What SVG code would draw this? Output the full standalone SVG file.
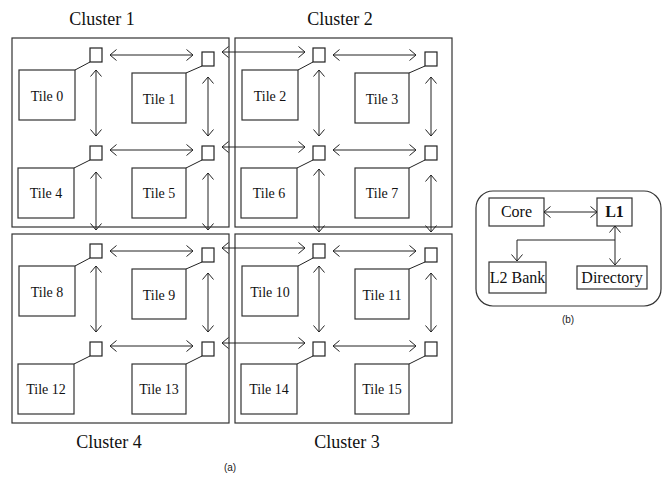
<svg xmlns="http://www.w3.org/2000/svg" width="665" height="477" viewBox="0 0 665 477">
<style>
.cl{fill:none;stroke:#333;stroke-width:1.2}
.tile{fill:#fff;stroke:#333;stroke-width:1.2}
.rt{fill:#fff;stroke:#222;stroke-width:1.2}
.lk{stroke:#222;stroke-width:1;fill:none}
.ar{stroke:#222;stroke-width:1;fill:none;marker-start:url(#ah);marker-end:url(#ah)}
.ae{stroke:#222;stroke-width:1;fill:none;marker-end:url(#ah)}
.t{font-family:"Liberation Serif","Times New Roman",serif;font-size:14px;fill:#111;text-anchor:middle}
.c{font-family:"Liberation Serif","Times New Roman",serif;font-size:18px;fill:#111;text-anchor:middle}
.b{font-family:"Liberation Serif","Times New Roman",serif;font-size:16px;fill:#111;text-anchor:middle}
.s{font-family:"Liberation Sans",Arial,sans-serif;font-size:10px;fill:#222;text-anchor:middle}
</style>
<defs>
<marker id="ah" markerUnits="userSpaceOnUse" orient="auto-start-reverse" refX="0" refY="0" markerWidth="10" markerHeight="14" viewBox="-8 -7 9 14" overflow="visible">
<path d="M-6.5,-5.5 L0,0 L-6.5,5.5" fill="none" stroke="#222" stroke-width="1"/>
</marker>
<g id="clusterTpl">
<rect class="cl" x="12" y="38" width="217" height="189"/>
<rect class="rt" x="90" y="48" width="12" height="14"/>
<rect class="rt" x="202" y="52" width="12" height="14"/>
<rect class="rt" x="90" y="146" width="12" height="14"/>
<rect class="rt" x="202" y="146" width="12" height="14"/>
<line class="lk" x1="75" y1="70" x2="90" y2="62"/>
<line class="lk" x1="186" y1="73" x2="202" y2="66"/>
<line class="lk" x1="74" y1="168" x2="90" y2="160"/>
<line class="lk" x1="186" y1="168" x2="202" y2="160"/>
<rect class="tile" x="19" y="70" width="56" height="50"/>
<rect class="tile" x="132" y="73" width="54" height="50"/>
<rect class="tile" x="18" y="168" width="56" height="50"/>
<rect class="tile" x="132" y="168" width="54" height="50"/>
<line class="ar" x1="110" y1="55" x2="193" y2="55"/>
<line class="ar" x1="110" y1="150" x2="193" y2="150"/>
<line class="ar" x1="96" y1="70" x2="96" y2="136"/>
<line class="ar" x1="208" y1="77" x2="208" y2="136"/>
</g>
</defs>

<g id="cluster1">
<use href="#clusterTpl"/>
<text class="c" x="102" y="25">Cluster 1</text>
</g>
<g id="cluster2">
<use href="#clusterTpl" transform="translate(223,0)"/>
<text class="c" x="340" y="25">Cluster 2</text>
</g>
<g id="cluster4">
<use href="#clusterTpl" transform="translate(0,196)"/>
<text class="c" x="109" y="448">Cluster 4</text>
</g>
<g id="cluster3">
<use href="#clusterTpl" transform="translate(223,196)"/>
<text class="c" x="347" y="448">Cluster 3</text>
</g>

<g id="tile-labels">
<text class="t" x="47" y="101">Tile 0</text>
<text class="t" x="159" y="104">Tile 1</text>
<text class="t" x="270" y="101">Tile 2</text>
<text class="t" x="382" y="104">Tile 3</text>
<text class="t" x="46" y="198">Tile 4</text>
<text class="t" x="159" y="198">Tile 5</text>
<text class="t" x="269" y="198">Tile 6</text>
<text class="t" x="382" y="198">Tile 7</text>
<text class="t" x="47" y="297">Tile 8</text>
<text class="t" x="159" y="300">Tile 9</text>
<text class="t" x="270" y="297">Tile 10</text>
<text class="t" x="382" y="300">Tile 11</text>
<text class="t" x="46" y="394">Tile 12</text>
<text class="t" x="159" y="394">Tile 13</text>
<text class="t" x="269" y="394">Tile 14</text>
<text class="t" x="382" y="394">Tile 15</text>
</g>

<g id="connectors">
<line class="ar" x1="222" y1="52" x2="305" y2="52"/>
<line class="ar" x1="222" y1="147" x2="305" y2="147"/>
<line class="ar" x1="222" y1="248" x2="305" y2="248"/>
<line class="ar" x1="222" y1="343" x2="305" y2="343"/>
<line class="ar" x1="96" y1="172" x2="96" y2="230"/>
<line class="ar" x1="208" y1="173" x2="208" y2="230"/>
<line class="ar" x1="319" y1="169" x2="319" y2="232"/>
<line class="ar" x1="431" y1="175" x2="431" y2="232"/>
</g>

<text class="s" x="230" y="471">(a)</text>

<g id="panel-b">
<rect x="476" y="191" width="185" height="115" rx="17" ry="17" fill="none" stroke="#333" stroke-width="1.2"/>
<g id="core"><rect class="tile" x="489" y="198" width="55" height="28"/><text class="b" x="516.5" y="217">Core</text></g>
<g id="l1"><rect class="tile" x="597" y="198" width="35" height="28"/><text class="b" x="614.5" y="217" font-weight="bold">L1</text></g>
<g id="l2bank"><rect class="tile" x="489" y="262" width="57" height="31"/><text class="b" x="517.5" y="283">L2 Bank</text></g>
<g id="directory"><rect class="tile" x="577" y="266" width="70" height="23"/><text class="b" x="612" y="283">Directory</text></g>
<g id="b-connectors">
<line class="ar" x1="544" y1="212" x2="597" y2="212"/>
<line class="ar" x1="615" y1="226" x2="615" y2="265"/>
<path class="ae" d="M615,240 L517,240 L517,261"/>
</g>
<text class="s" x="568" y="323">(b)</text>
</g>
</svg>
